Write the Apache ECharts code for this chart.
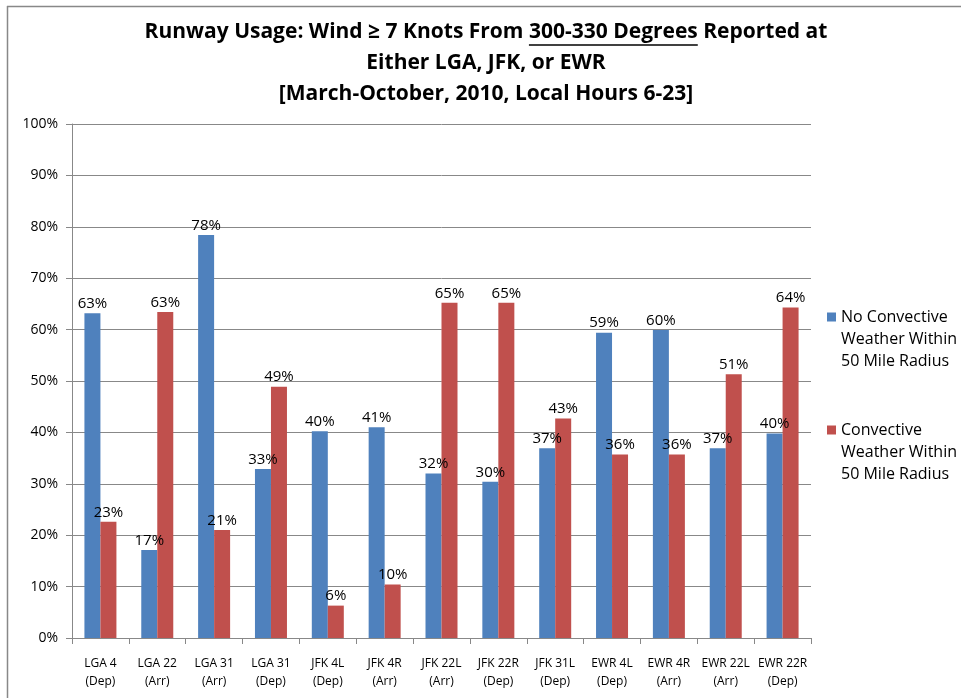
<!DOCTYPE html>
<html>
<head>
<meta charset="utf-8">
<title>Runway Usage</title>
<script src="https://cdn.jsdelivr.net/npm/echarts@6/dist/echarts.min.js"></script>
<style>
  html, body { margin: 0; padding: 0; background: #fff; }
  #chart { width: 961px; height: 698px; }
</style>
</head>
<body>
<div id="chart"></div>
<script>
// Runway categories (two-line labels: runway / operation)
const categories = [
  'LGA 4\n(Dep)', 'LGA 22\n(Arr)', 'LGA 31\n(Arr)', 'LGA 31\n(Dep)',
  'JFK 4L\n(Dep)', 'JFK 4R\n(Arr)', 'JFK 22L\n(Arr)', 'JFK 22R\n(Dep)',
  'JFK 31L\n(Dep)', 'EWR 4L\n(Dep)', 'EWR 4R\n(Arr)', 'EWR 22L\n(Arr)',
  'EWR 22R\n(Dep)'
];

// Share of hours each runway was in use (%)
const noConvective = [63.2, 17.1, 78.4, 32.9, 40.2, 41.0, 32.0, 30.4, 36.9, 59.4, 59.9, 36.9, 39.8];
const convective   = [22.6, 63.4, 21.0, 48.9, 6.3, 10.4, 65.2, 65.2, 42.7, 35.7, 35.7, 51.3, 64.3];

const seriesNames = [
  'No Convective\nWeather Within\n50 Mile Radius',
  'Convective\nWeather Within\n50 Mile Radius'
];

const yTicks = { min: 0, max: 100, interval: 10 };

const titleLines = [
  ['Runway Usage: Wind \u2265 7 Knots From ', '300-330 Degrees', ' Reported at'],
  ['Either LGA, JFK, or EWR'],
  ['[March-October, 2010, Local Hours 6-23]']
];

const FONT = '"Open Sans", "Noto Sans", sans-serif';
const TITLE_FONT_SIZE = 21;
const TITLE_FONT = 'bold ' + TITLE_FONT_SIZE + 'px ' + FONT;

// Measure text so the underlined phrase in the title gets an exact rule
const ctx = document.createElement('canvas').getContext('2d');
ctx.font = TITLE_FONT;
function w(s) { return ctx.measureText(s).width; }

const titleCenterX = 486;
const titleYs = [32, 63, 94];
const titleGraphics = [];
titleLines.forEach(function (parts, i) {
  titleGraphics.push({
    type: 'text',
    x: titleCenterX,
    y: titleYs[i],
    style: {
      text: parts.join(''),
      font: TITLE_FONT,
      fill: '#000',
      align: 'center',
      verticalAlign: 'middle'
    }
  });
});
(function () {
  const parts = titleLines[0];
  const total = w(parts.join(''));
  const x0 = titleCenterX - total / 2 + w(parts[0]);
  const x1 = x0 + w(parts[1]);
  titleGraphics.push({
    type: 'line',
    shape: { x1: x0, y1: titleYs[0] + 13, x2: x1, y2: titleYs[0] + 13 },
    style: { stroke: '#000', lineWidth: 1.5 }
  });
})();

// Outer chart frame (top and left edges)
const frame = [
  { type: 'line', shape: { x1: 7, y1: 6.5, x2: 961, y2: 6.5 }, style: { stroke: '#888', lineWidth: 1.5 } },
  { type: 'line', shape: { x1: 7.5, y1: 6, x2: 7.5, y2: 698 }, style: { stroke: '#888', lineWidth: 1.5 } }
];

const axisGrey = '#888888';

const labelOpt = {
  show: true,
  position: 'top',
  distance: 2,
  fontFamily: FONT,
  fontSize: 15,
  color: '#000',
  formatter: function (p) { return Math.round(p.value) + '%'; }
};

// Two blank lines ahead of each legend entry keep the swatch level with its first line
function legendText(name) { return ' \n \n' + name; }

const chart = echarts.init(document.getElementById('chart'));
chart.setOption({
  animation: false,
  backgroundColor: '#fff',
  grid: { left: 72, right: 150, top: 124, bottom: 60, containLabel: false },
  legend: {
    orient: 'vertical',
    left: 827,
    top: 262,
    padding: 0,
    itemWidth: 9,
    itemHeight: 9,
    itemGap: 3,
    icon: 'rect',
    formatter: legendText,
    textStyle: {
      fontFamily: FONT,
      fontSize: 16,
      lineHeight: 22,
      color: '#000'
    },
    data: seriesNames
  },
  xAxis: {
    type: 'category',
    data: categories,
    boundaryGap: true,
    axisLine: { lineStyle: { color: axisGrey, width: 1 } },
    axisTick: { show: true, length: 6, inside: false, lineStyle: { color: axisGrey } },
    axisLabel: {
      interval: 0,
      fontFamily: FONT,
      fontSize: 12,
      lineHeight: 18,
      color: '#000',
      margin: 17
    },
    splitLine: { show: false }
  },
  yAxis: {
    type: 'value',
    min: yTicks.min,
    max: yTicks.max,
    interval: yTicks.interval,
    axisLine: { show: true, lineStyle: { color: axisGrey, width: 1 } },
    axisTick: { show: true, length: 6, inside: false, lineStyle: { color: axisGrey } },
    axisLabel: {
      formatter: '{value}%',
      fontFamily: FONT,
      fontSize: 14,
      color: '#000',
      margin: 14
    },
    splitLine: { show: true, lineStyle: { color: axisGrey, width: 1 } }
  },
  series: [
    {
      name: seriesNames[0],
      type: 'bar',
      data: noConvective,
      barWidth: 16,
      barGap: '0%',
      itemStyle: { color: '#4F81BD' },
      label: labelOpt
    },
    {
      name: seriesNames[1],
      type: 'bar',
      data: convective,
      barWidth: 16,
      barGap: '0%',
      itemStyle: { color: '#C0504D' },
      label: labelOpt
    }
  ],
  graphic: frame.concat(titleGraphics)
});
</script>
</body>
</html>
